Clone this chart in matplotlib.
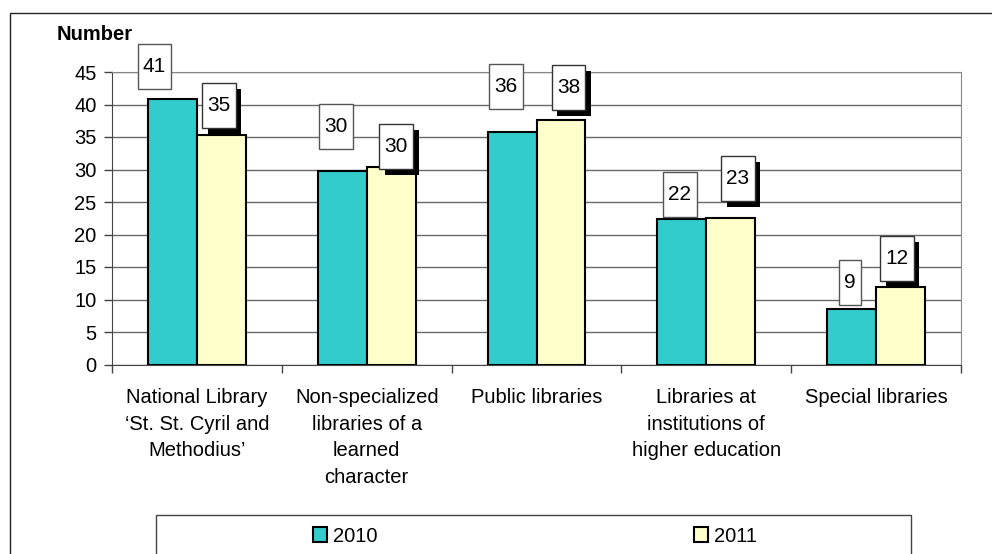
import matplotlib
matplotlib.use("Agg")
import matplotlib.pyplot as plt
from matplotlib.patches import Rectangle, Patch
from matplotlib.path import Path
import matplotlib.patheffects as pe
import numpy as np

categories = ["National Library\n\u2018St. St. Cyril and\nMethodius\u2019",
              "Non-specialized\nlibraries of a\nlearned\ncharacter",
              "Public libraries",
              "Libraries at\ninstitutions of\nhigher education",
              "Special libraries"]
values_2010 = [40.8, 29.8, 35.8, 22.4, 8.6]
values_2011 = [35.3, 30.4, 37.6, 22.6, 11.9]
series_names = ["2010", "2011"]
yticks = [0, 5, 10, 15, 20, 25, 30, 35, 40, 45]

plt.rcParams["font.family"] = ["Liberation Sans", "DejaVu Sans"]
plt.rcParams["font.size"] = 14.5

fig = plt.figure(figsize=(9.92, 5.54), dpi=100)
ax = fig.add_axes([112/992, 1 - 364.5/554, 849/992, 292.5/554])

x = np.arange(len(categories))
w = 0.288
teal = "#33CCCC"
cream = "#FFFFCC"
b1 = ax.bar(x - w/2, values_2010, w, color=teal, edgecolor="black", linewidth=1.5, zorder=3)
b2 = ax.bar(x + w/2, values_2011, w, color=cream, edgecolor="black", linewidth=1.5, zorder=3)

ax.set_ylim(0, 45)
ax.set_xlim(-0.5, len(categories) - 0.5)
ax.set_yticks(yticks)
ax.yaxis.grid(True, color="#6a6a6a", linewidth=1, zorder=0)
ax.set_axisbelow(True)
ax.set_xticks(x)
ax.set_xticklabels(categories, linespacing=1.5)
ax.set_xticks(np.arange(len(categories) + 1) - 0.5, minor=True)
ax.tick_params(axis="x", which="major", length=0, pad=17)
ax.tick_params(axis="x", which="minor", length=6, width=1, color="#444444")
ax.tick_params(axis="y", length=6, width=1, color="#444444", pad=5)
ax.spines["left"].set_color("#444444")
ax.spines["bottom"].set_color("#444444")
ax.spines["top"].set_color("#888888")
ax.spines["right"].set_color("#888888")


def tall_box(x0, y0, width, height, mutation_size):
    px = 0.25 * mutation_size
    py = 0.62 * mutation_size
    a, b = x0 - px, y0 - py
    c, d = x0 + width + px, y0 + height + py
    return Path([(a, b), (c, b), (c, d), (a, d), (a, b)],
                [Path.MOVETO, Path.LINETO, Path.LINETO, Path.LINETO, Path.CLOSEPOLY])


# label offsets (px) of box centre from bar top centre
off_2010 = [(-18, 33), (-6, 44), (-6, 45), (-2, 24), (-2, 26)]
off_2011 = [(-2.5, 29.5), (5, 20.5), (7.5, 33), (7, 39), (-3.5, 29)]

for bars, vals, offs, shadow in [(b1, values_2010, off_2010, False),
                                 (b2, values_2011, off_2011, True)]:
    for bar, v, (dx, dy) in zip(bars, vals, offs):
        t = ax.annotate(f"{v:.0f}", (bar.get_x() + bar.get_width()/2, v),
                        xytext=(dx*0.72, dy*0.72), textcoords="offset points",
                        ha="center", va="center", fontsize=15, zorder=5,
                        bbox=dict(boxstyle=tall_box, fc="white",
                                  ec="#555555" if not shadow else "#333333",
                                  lw=1))
        if shadow:
            t.get_bbox_patch().set_path_effects(
                [pe.SimplePatchShadow(offset=(4, -4.5), shadow_rgbFace="black", alpha=1),
                 pe.Normal()])

fig.text(57/992, 1 - 35/554, "Number", fontsize=14.5, fontweight="bold", va="center")

# outer chart frame
fig.add_artist(Rectangle((10/992, -0.1), 1.1, 1 - 13/554 + 0.1, transform=fig.transFigure,
                         fill=False, ec="#222222", lw=1))
# legend frame
fig.add_artist(Rectangle((156/992, -0.1), (911-156)/992, 0.1 + 1 - 515/554,
                         transform=fig.transFigure, fill=False, ec="#444444", lw=1))
handles = [Patch(fc=teal, ec="black", lw=1.5), Patch(fc=cream, ec="black", lw=1.5)]
fig.legend(handles, series_names, loc="center", bbox_to_anchor=(535/992, 1 - 536/554),
           ncol=2, frameon=False, fontsize=14.5, handlelength=0.7, handleheight=0.7,
           handletextpad=0.3, columnspacing=15.7)

fig.savefig("out.png", dpi=100)
